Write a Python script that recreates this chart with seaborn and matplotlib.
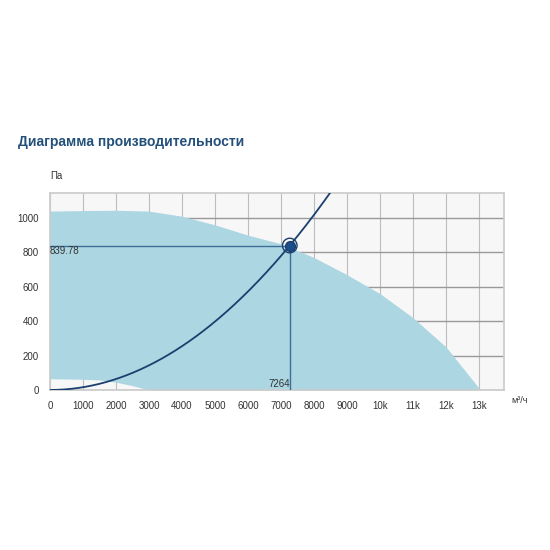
import numpy as np
import matplotlib
matplotlib.use("Agg")
import matplotlib.pyplot as plt
import seaborn as sns

sns.set_theme(style="whitegrid")
plt.rcParams['font.family'] = ['Liberation Sans', 'DejaVu Sans']

fan_x = [0, 1000, 2000, 3000, 4000, 5000, 6000, 7000, 8000, 9000, 10000, 11000, 12000, 12500, 13000]
fan_hi = [1040, 1043, 1045, 1040, 1010, 960, 900, 850, 770, 670, 560, 420, 250, 130, 10]
low_x = [0, 1000, 1500, 2000, 2500, 3000, 13000]
low_y = [65, 62, 58, 45, 25, 0, 0]
op_q = 7264
op_p = 839.78
xticks = [0, 1000, 2000, 3000, 4000, 5000, 6000, 7000, 8000, 9000, 10000, 11000, 12000, 13000]
xlabels = ["0", "1000", "2000", "3000", "4000", "5000", "6000", "7000", "8000", "9000", "10k", "11k", "12k", "13k"]
yticks = [0, 200, 400, 600, 800, 1000]

fig = plt.figure(figsize=(5.5, 5.5), dpi=100)
ax = fig.add_axes([0.091, 0.291, 0.825, 0.358])
ax.set_facecolor("#f7f7f7")
xs = np.linspace(0, 13000, 400)
hi = np.interp(xs, fan_x, fan_hi)
lo = np.interp(xs, low_x, low_y)
ax.fill_between(xs, lo, hi, color="#acd6e2", lw=0, zorder=1)
sx = np.linspace(0, 9000, 300)
sns.lineplot(x=sx, y=op_p * (sx / op_q) ** 2, ax=ax, color="#1b3f6e", lw=1.3, zorder=3)
ax.plot([0, op_q], [op_p, op_p], color="#3d6f9a", lw=1, zorder=3)
ax.plot([op_q, op_q], [0, op_p], color="#3d6f9a", lw=1, zorder=3)
ax.scatter([op_q], [op_p], s=50, facecolor="#1b4e8a", edgecolor="#1b3f6e", zorder=4)
ax.scatter([op_q], [op_p], s=110, facecolor="none", edgecolor="#1b3f6e", lw=1, zorder=4)
ax.text(0, op_p - 5, "839.78", fontsize=7, va="top", ha="left", color="#333")
ax.text(op_q, 5, "7264", fontsize=7, va="bottom", ha="right", color="#333")
ax.set_xlim(0, 13750)
ax.set_ylim(0, 1145)
ax.set_xticks(xticks, xlabels)
ax.set_yticks(yticks)
ax.grid(True, color="#bdbdbd", lw=0.8, zorder=0)
ax.set_axisbelow(True)
ax.yaxis.grid(True, color="#999999", lw=1)
ax.tick_params(labelsize=7, colors="#333", pad=2)
for s in ax.spines.values():
    s.set_color("#cccccc")
fig.text(0.091, 0.675, "Па", fontsize=7, color="#333")
fig.text(0.93, 0.268, "м³/ч", fontsize=6.5, color="#333")
fig.text(0.033, 0.735, "Диаграмма производительности", fontsize=10, fontweight="bold", color="#23507a")
fig.savefig("out.png", dpi=100, facecolor="white")
